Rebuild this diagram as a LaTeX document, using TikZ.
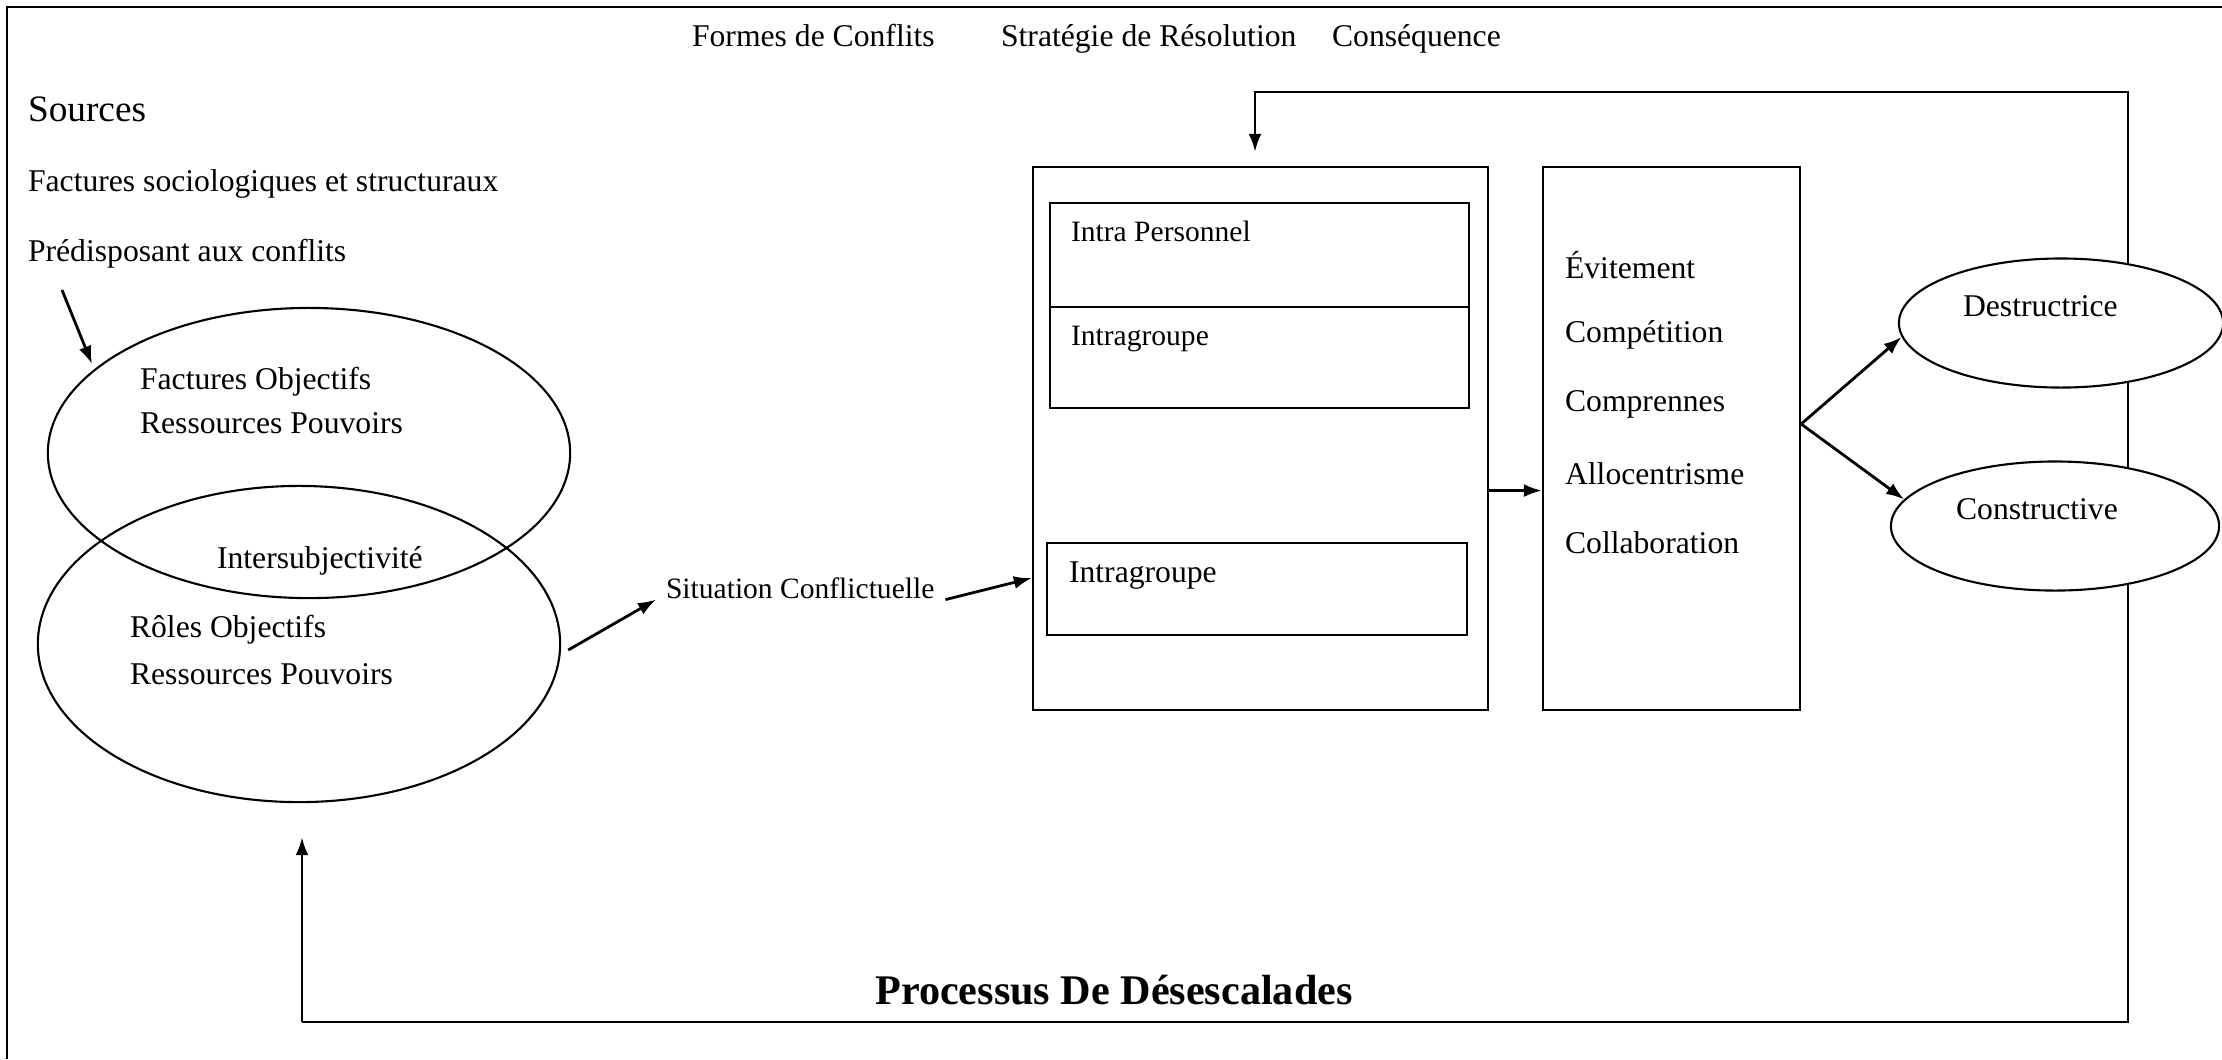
\documentclass[tikz,border=0pt]{standalone}
\usepackage{fontspec}
\setmainfont{Liberation Serif}
\usetikzlibrary{shapes.geometric,arrows.meta}
\begin{document}
\begin{tikzpicture}[x=0.01cm,y=-0.01cm,line width=0.6pt,
	texte/.style={inner sep=0pt,anchor=west,font=\fontsize{9}{11}\selectfont},
	petit/.style={texte,font=\fontsize{8.4}{10}\selectfont},
	boite/.style={draw,inner sep=0pt},
	bulle/.style={draw,ellipse,inner sep=0pt},
	fleche/.style={-{Latex[length=0.18cm,width=0.13cm]},line width=0.8pt}]
		\useasboundingbox (0,0) rectangle (2222,1059);
		\draw (2222,7) -- (7,7) -- (7,1059);
		% titres du haut
		\node[texte,anchor=base west] (titreformes) at (691,46) {Formes de Conflits};
		\node[texte,anchor=base west] (titrestrategie) at (1000,46) {Stratégie de Résolution};
		\node[texte,anchor=base west] (titreconsequence) at (1331,46) {Conséquence};
		% sources
		\node[texte,font=\fontsize{10.6}{12}\selectfont] (sources) at (27,109) {Sources};
		\node[texte] (facteurs) at (27,184) {Factures sociologiques et structuraux};
		\node[texte] (predispose) at (27,254) {Prédisposant aux conflits};
		\coordinate (departsources) at (62,290);
		\coordinate (entreesources) at (92,364);
		\draw[fleche] (departsources) -- (entreesources);
		\node[bulle,minimum width=5.22cm,minimum height=2.90cm] (objectifs) at (309,453) {};
		\node[bulle,minimum width=5.22cm,minimum height=3.16cm] (roles) at (299,644) {};
		\node[texte] (fobjectifs) at (139,382) {Factures Objectifs};
		\node[texte] (fressources) at (139,423) {Ressources Pouvoirs};
		\node[texte] (inter) at (216,561) {Intersubjectivité};
		\node[texte] (robjectifs) at (129,630) {Rôles Objectifs};
		\node[texte] (rressources) at (129,674) {Ressources Pouvoirs};
		\node[petit] (situation) at (665,588) {Situation Conflictuelle};
		\draw[fleche] ([xshift=0.07cm,yshift=-0.06cm]roles.east) -- ([xshift=-0.09cm]situation.south west);
		% formes de conflits
		\node[boite,minimum width=4.55cm,minimum height=5.43cm] (formes) at (1260.5,438.5) {};
		\node[boite,minimum width=4.19cm,minimum height=1.04cm] (intrap) at (1259.5,255) {};
		\node[boite,minimum width=4.19cm,minimum height=1.01cm] (intraga) at (1259.5,357.5) {};
		\node[boite,minimum width=4.20cm,minimum height=0.92cm] (intragb) at (1257,589) {};
		\node[petit] (tintrap) at (1070,231) {Intra Personnel};
		\node[petit] (tintraga) at (1070,339) {Intragroupe};
		\node[texte] (tintragb) at (1068,576) {Intragroupe};
		\draw[fleche] ([xshift=0.1cm]situation.south east) -- ([yshift=0.11cm]intragb.west -| formes.west);
		% strategies
		\node[boite,minimum width=2.57cm,minimum height=5.43cm] (strategies) at (1671.5,438.5) {};
		\foreach \s [count=\i] in {Évitement,Compétition,Comprennes,Allocentrisme,Collaboration}
			\node[texte] (strat\i) at (1564,{265+69.5*(\i-1)}) {\s};
		\draw[fleche] ([yshift=-0.52cm]formes.east) -- ([yshift=-0.52cm]strategies.west);
		% boucle de desescalade
		\coordinate (depart) at (302,1022);
		\coordinate (droitebas) at (2128,1022);
		\coordinate (droitehaut) at (2128,92);
		\coordinate (retour) at (1255,92);
		\draw[fleche,shorten >=0.14cm] (depart) -- (droitebas) -- (droitehaut) -- (retour) -- (retour |- formes.north);
		\draw[fleche,shorten >=0.34cm] (depart) -- (depart |- roles.south);
		\node[font=\fontsize{12}{14}\selectfont\bfseries] (processus) at (1114,990) {Processus De Désescalades};
		% consequences
		\node[bulle,fill=white,minimum width=3.24cm,minimum height=1.29cm] (destructrice) at (2061,323) {};
		\node[bulle,fill=white,minimum width=3.28cm,minimum height=1.29cm] (constructive) at (2055,526) {};
		\node[texte] (tdestructrice) at (1962,306) {Destructrice};
		\node[texte] (tconstructive) at (1955,509) {Constructive};
		\coordinate (fourche) at ([yshift=0.145cm]strategies.east);
		\draw[fleche] (fourche) -- (destructrice.185);
		\draw[fleche] (fourche) -- (constructive.170);
\end{tikzpicture}
\end{document}
